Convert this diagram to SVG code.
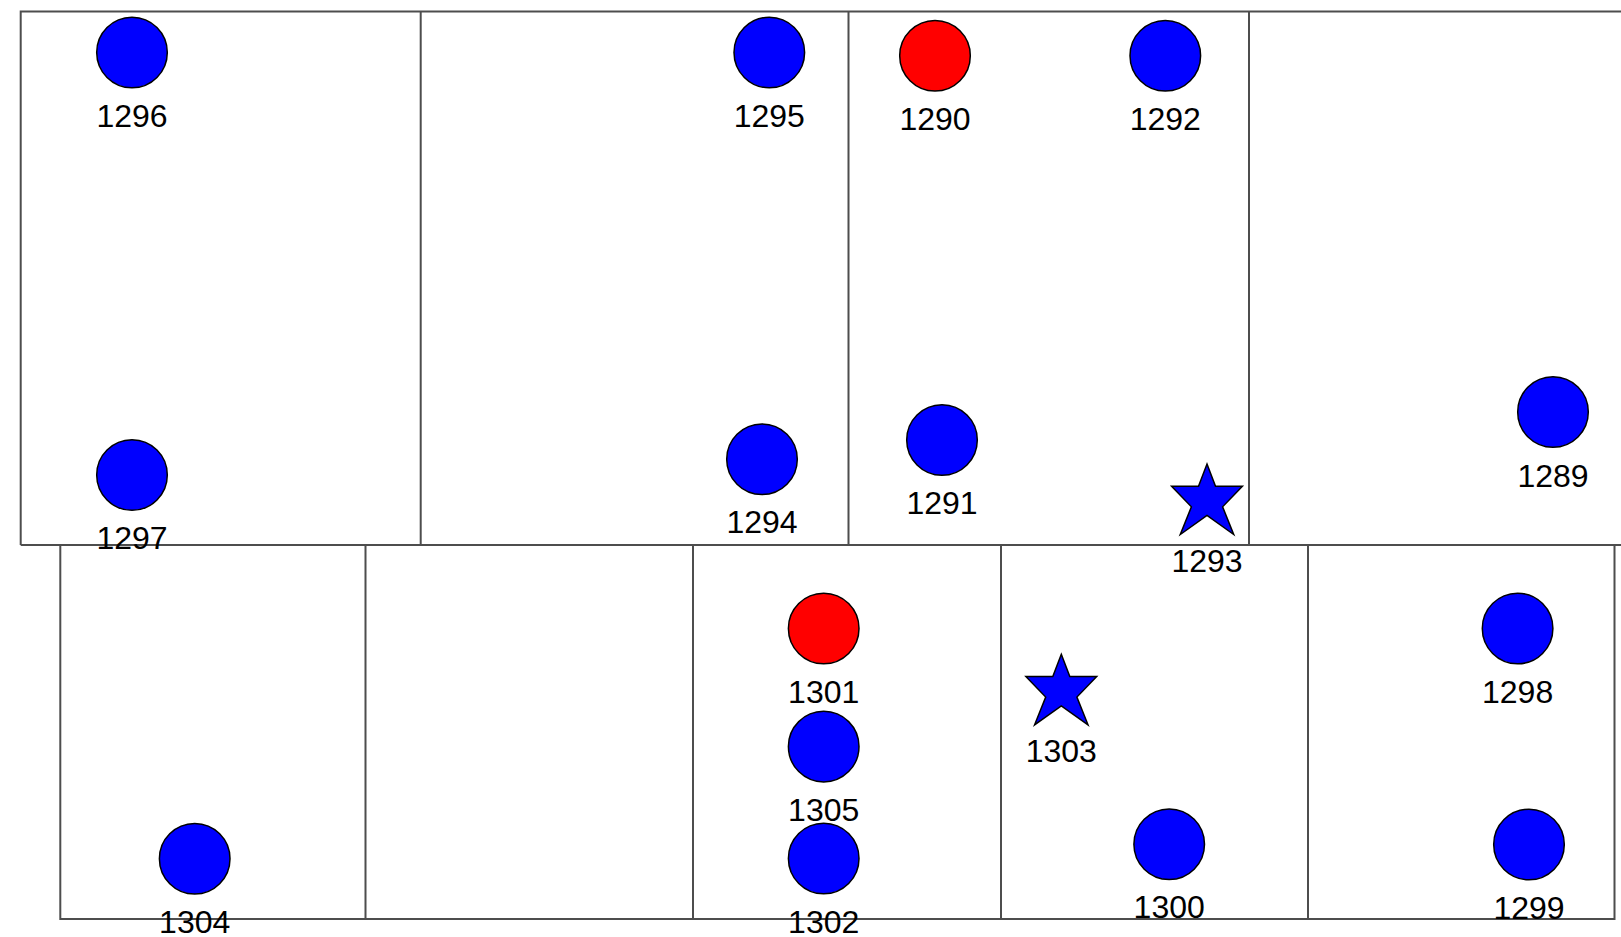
<svg xmlns="http://www.w3.org/2000/svg" width="1621" height="937" viewBox="0 0 1621 937">
<style>
.frame{fill:none;stroke:#4d4d4d;stroke-width:2}
.blue{fill:#0000ff;stroke:#000;stroke-width:1.5}
.red{fill:#ff0000;stroke:#000;stroke-width:1.5}
.lbl{font-family:"Liberation Sans",Arial,sans-serif;font-size:32px;fill:#000;text-anchor:middle}
</style>
<defs>
<polygon id="star" points="0,0 8.5,22.3 35.4,22.3 15.6,42.8 26.7,70.5 0,51.5 -26.7,70.5 -15.6,42.8 -35.4,22.3 -8.5,22.3"/>
</defs>
<rect width="1621" height="937" fill="#fff"/>
<g id="layout">
<path class="frame" d="M20.7,545 V11.5 H1621 M20.7,545 H1621 M420.7,11.5 V545 M848.5,11.5 V545 M1249,11.5 V545"/>
<path class="frame" d="M60.3,545 V919 H1614.5 V545 M365.5,545 V919 M693,545 V919 M1001,545 V919 M1308,545 V919"/>
</g>
<g id="n1296"><circle class="blue" cx="132" cy="52.5" r="35.3"/><text class="lbl" x="132" y="126.5">1296</text></g>
<g id="n1297"><circle class="blue" cx="132" cy="475" r="35.3"/><text class="lbl" x="132" y="549">1297</text></g>
<g id="n1295"><circle class="blue" cx="769.3" cy="52.5" r="35.3"/><text class="lbl" x="769.3" y="126.5">1295</text></g>
<g id="n1294"><circle class="blue" cx="762" cy="459.2" r="35.3"/><text class="lbl" x="762" y="533.2">1294</text></g>
<g id="n1290"><circle class="red" cx="935" cy="55.8" r="35.3"/><text class="lbl" x="935" y="129.8">1290</text></g>
<g id="n1292"><circle class="blue" cx="1165.3" cy="55.8" r="35.3"/><text class="lbl" x="1165.3" y="129.8">1292</text></g>
<g id="n1291"><circle class="blue" cx="942" cy="440" r="35.3"/><text class="lbl" x="942" y="514">1291</text></g>
<g id="n1289"><circle class="blue" cx="1553" cy="412" r="35.3"/><text class="lbl" x="1553" y="486.5">1289</text></g>
<g id="n1293"><use href="#star" class="blue" x="1207" y="464"/><text class="lbl" x="1207" y="571.7">1293</text></g>
<g id="n1304"><circle class="blue" cx="194.7" cy="858.7" r="35.3"/><text class="lbl" x="194.7" y="932.7">1304</text></g>
<g id="n1301"><circle class="red" cx="823.7" cy="628.5" r="35.3"/><text class="lbl" x="823.7" y="702.5">1301</text></g>
<g id="n1305"><circle class="blue" cx="823.7" cy="746.6" r="35.3"/><text class="lbl" x="823.7" y="820.6">1305</text></g>
<g id="n1302"><circle class="blue" cx="823.7" cy="858.5" r="35.3"/><text class="lbl" x="823.7" y="932.5">1302</text></g>
<g id="n1303"><use href="#star" class="blue" x="1061.3" y="654.3"/><text class="lbl" x="1061.3" y="761.7">1303</text></g>
<g id="n1300"><circle class="blue" cx="1169.2" cy="844.2" r="35.3"/><text class="lbl" x="1169.2" y="918.2">1300</text></g>
<g id="n1298"><circle class="blue" cx="1517.6" cy="628.5" r="35.3"/><text class="lbl" x="1517.6" y="702.5">1298</text></g>
<g id="n1299"><circle class="blue" cx="1529" cy="844.5" r="35.3"/><text class="lbl" x="1529" y="918.5">1299</text></g>
<g id="connectors"></g>
</svg>
